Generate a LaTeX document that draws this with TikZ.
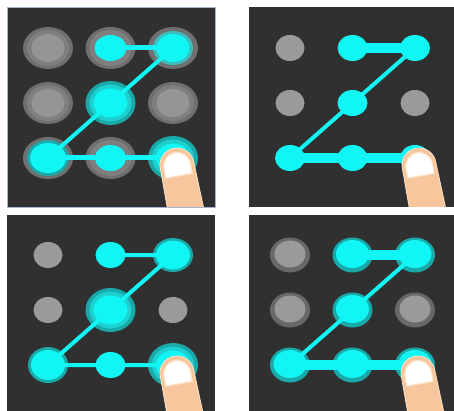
\documentclass[tikz,border=0pt]{standalone}
\definecolor{panelbg}{HTML}{303030}
\definecolor{frameA}{HTML}{A9B3D6}
\definecolor{cy}{HTML}{12F5F5}
\definecolor{tA}{HTML}{1AA9A9}
\definecolor{tB}{HTML}{1DCFCF}
\definecolor{tC}{HTML}{3FBCBC}
\definecolor{gA}{HTML}{6F6F6F}
\definecolor{gB}{HTML}{7F7F7F}
\definecolor{gC}{HTML}{959595}
\definecolor{gP}{HTML}{9A9A9A}
\definecolor{gR}{HTML}{686868}
\definecolor{skin}{HTML}{F8C69C}
\definecolor{skinrim}{HTML}{FDE2C6}

% 3x3 grid of named dot centres: prefix, x of first column, y of first row
\newcommand\dotgrid[3]{%
  \foreach \r/\dy in {1/0,2/55,3/110}{%
    \foreach \c/\dx in {1/0,2/62.5,3/125}{%
      \coordinate (#1\r\c) at ({#2+\dx},{#3+\dy});}}}
% one filled ellipse: colour, centre, x radius, y radius
\newcommand\blob[4]{\fill[#1] (#2) ellipse [x radius=#3, y radius=#4];}
% finger pressing the last dot: cap centre x, y
\newcommand\fingertip[2]{%
  \begin{scope}[shift={(#1,#2)}, rotate=10]
    \fill[skin, draw=skinrim, line width=0.8pt]
      (-17,80) -- (-17,0) arc [start angle=180, end angle=360, radius=17]
      -- (20,80) -- cycle;
    \fill[white, draw=skinrim, line width=1.2pt]
      (-13.5,11) -- (-13.5,1) arc [start angle=180, end angle=360, radius=13.5]
      -- (13.5,11) -- cycle;
  \end{scope}}

\tikzset{zline/.style={draw=cy, line cap=round}}

\begin{document}
\begin{tikzpicture}[x=1pt,y=-1pt]
\useasboundingbox (0,0) rectangle (454,411);
\fill[white] (0,0) rectangle (454,411);

% ---------- panel 1: layered halos ----------
\fill[panelbg] (7,7) rectangle (215,207);
\dotgrid{a}{48}{48}
\foreach \p in {a11,a21,a23}{\blob{gA}{\p}{25}{21}\blob{gB}{\p}{21}{18}\blob{gC}{\p}{16.5}{14}}
\blob{gA}{a12}{25}{21}\blob{gB}{a12}{21}{18}\blob{cy}{a12}{16}{13}
\blob{gA}{a13}{25}{21}\blob{tC}{a13}{20}{17}\blob{cy}{a13}{16.5}{14}
\blob{tA}{a22}{25}{22}\blob{tB}{a22}{21}{18.5}\blob{cy}{a22}{17}{14.5}
\blob{gA}{a31}{25}{21}\blob{tA}{a31}{21}{18}\blob{cy}{a31}{18}{15}
\blob{gA}{a32}{25}{21}\blob{gB}{a32}{21}{18}\blob{cy}{a32}{15.5}{13}
\blob{tA}{a33}{25}{22}\blob{tB}{a33}{21}{18.5}\blob{cy}{a33}{17}{14.5}
\draw[zline, line width=5pt] (a12) -- (a13);
\draw[zline, line width=4pt] (a13) -- (a22) -- (a31);
\draw[zline, line width=5pt] (a31) -- (a32) -- (a33);
\begin{scope}
  \clip (7,7) rectangle (215,207);
  \fingertip{177}{165}
\end{scope}
\draw[frameA, line width=0.8pt] (7,7) rectangle (215,207);

% ---------- panel 2: flat dots ----------
\fill[panelbg] (249,7) rectangle (454,207);
\dotgrid{b}{290}{48}
\foreach \p in {b11,b21,b23}{\blob{gP}{\p}{14.5}{13}}
\foreach \p in {b12,b13,b22,b31,b32,b33}{\blob{cy}{\p}{15}{13}}
\draw[zline, line width=10pt] (b12) -- (b13);
\draw[zline, line width=4pt] (b13) -- (b22) -- (b31);
\draw[zline, line width=10pt] (b31) -- (b32) -- (b33);
\begin{scope}
  \clip (249,7) rectangle (454,207);
  \fingertip{419}{165}
\end{scope}

% ---------- panel 3: growing rings ----------
\fill[panelbg] (7,215) rectangle (215,411);
\dotgrid{c}{48}{255}
\foreach \p in {c11,c21,c23}{\blob{gP}{\p}{14.5}{13}}
\blob{cy}{c12}{15}{13}
\blob{tA}{c13}{20}{17}\blob{cy}{c13}{17}{14.5}
\blob{tA}{c22}{25}{22}\blob{tB}{c22}{21}{18.5}\blob{cy}{c22}{17}{14.5}
\blob{tA}{c31}{20}{18}\blob{cy}{c31}{17}{15}
\blob{cy}{c32}{15}{13}
\blob{tA}{c33}{25}{22}\blob{tB}{c33}{21}{18.5}\blob{cy}{c33}{17}{14.5}
\draw[zline, line width=4pt] (c12) -- (c13) -- (c22) -- (c31) -- (c32) -- (c33);
\begin{scope}
  \clip (7,215) rectangle (215,411);
  \fingertip{177}{373}
\end{scope}

% ---------- panel 4: ringed dots ----------
\fill[panelbg] (249,215) rectangle (454,411);
\dotgrid{d}{290}{255}
\foreach \p in {d11,d21,d23}{\blob{gR}{\p}{20}{17.5}\fill[gP] ([yshift=1pt]\p) ellipse [x radius=15.5, y radius=13.5];}
\foreach \p in {d12,d13,d22,d31,d32,d33}{\blob{tA}{\p}{20}{17.5}\fill[cy] ([yshift=1pt]\p) ellipse [x radius=16.5, y radius=14];}
\draw[zline, line width=10pt] (d12) -- (d13);
\draw[zline, line width=4pt] (d13) -- (d22) -- (d31);
\draw[zline, line width=10pt] (d31) -- (d32) -- (d33);
\begin{scope}
  \clip (249,215) rectangle (454,411);
  \fingertip{418}{373}
\end{scope}
\end{tikzpicture}
\end{document}
